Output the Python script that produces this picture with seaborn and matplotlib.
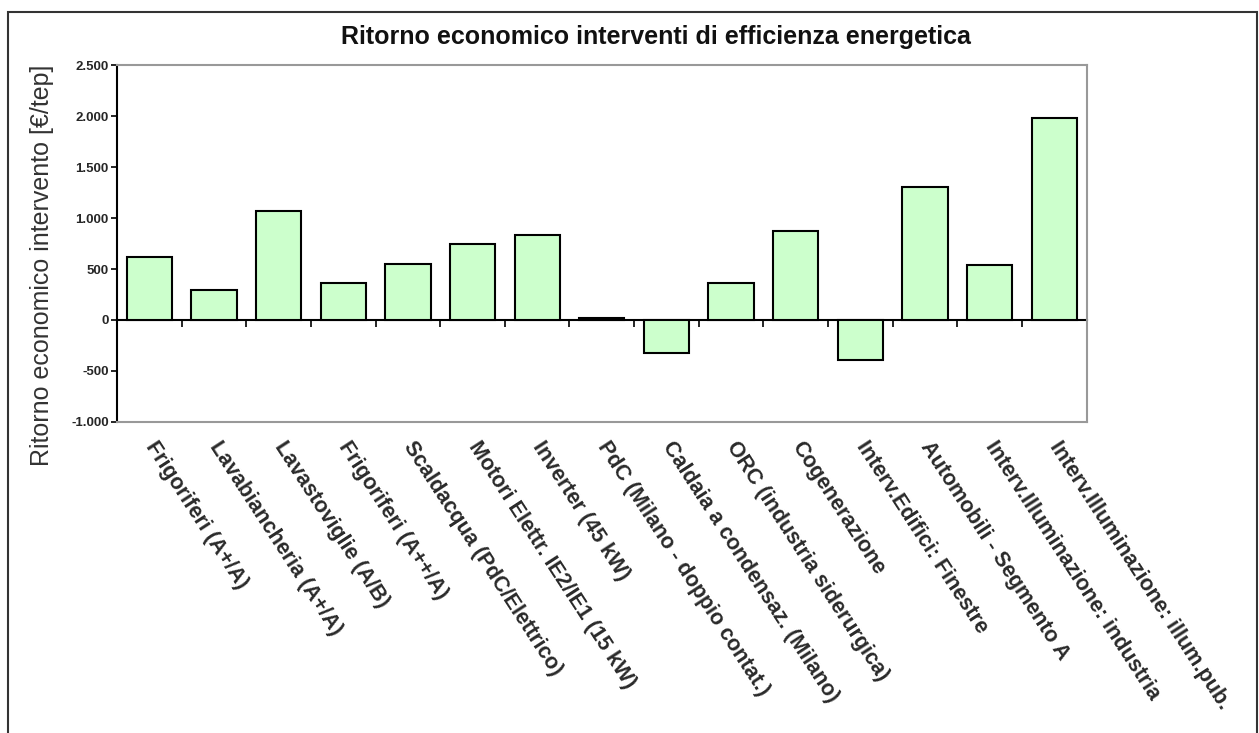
import numpy as np
import pandas as pd
import matplotlib
matplotlib.use("Agg")
import matplotlib.pyplot as plt
import seaborn as sns
from matplotlib.ticker import FuncFormatter, FixedLocator
from matplotlib.patches import Rectangle

# Dati
interventi = [
    "Frigoriferi (A+/A)",
    "Lavabiancheria (A+/A)",
    "Lavastoviglie (A/B)",
    "Frigoriferi (A++/A)",
    "Scaldacqua (PdC/Elettrico)",
    "Motori Elettr. IE2/IE1 (15 kW)",
    "Inverter (45 kW)",
    "PdC (Milano - doppio contat.)",
    "Caldaia a condensaz. (Milano)",
    "ORC (industria siderurgica)",
    "Cogenerazione",
    "Interv.Edifici: Finestre",
    "Automobili - Segmento A",
    "Interv.Illuminazione: industria",
    "Interv.Illuminazione: illum.pub.",
]
ritorno = [620, 299, 1067, 360, 551, 746, 833, 20, -324, 360, 875, -389, 1300, 535, 1984]
y_ticks = [-1000, -500, 0, 500, 1000, 1500, 2000, 2500]

df = pd.DataFrame({"intervento": interventi, "ritorno": ritorno})

sns.set_theme(style="white")
plt.rcParams["font.family"] = ["Liberation Sans", "DejaVu Sans"]

fig = plt.figure(figsize=(12.59, 7.33), dpi=100)
ax = fig.add_axes([0.093, 0.4243, 0.77, 0.4870])

sns.barplot(
    data=df,
    x="intervento",
    y="ritorno",
    color="#CCFFCC",
    saturation=1,
    edgecolor="black",
    linewidth=1.5,
    width=0.7,
    ax=ax,
)

ax.set_ylim(-1000, 2500)
ax.set_xlim(-0.5, len(interventi) - 0.5)
ax.yaxis.set_major_locator(FixedLocator(y_ticks))
ax.yaxis.set_major_formatter(
    FuncFormatter(lambda v, p: f"{int(v):,}".replace(",", "."))
)
ax.tick_params(axis="y", direction="out", length=4, width=1.2, color="black",
               labelsize=9.5, pad=2, left=True)
for lab in ax.get_yticklabels():
    lab.set_fontweight("bold")

# etichette categorie ruotate
ax.set_xticks(range(len(interventi)))
ax.set_xticklabels(interventi, rotation=-57, ha="left", va="center",
                   rotation_mode="anchor", fontsize=15.5, fontweight="bold",
                   color="#2a2a2a")
ax.tick_params(axis="x", length=0, pad=15)
ax.set_xlabel("")
ax.set_ylabel("")

for side in ["top", "right", "bottom"]:
    ax.spines[side].set_color("#999999")
    ax.spines[side].set_linewidth(1.5)
ax.spines["left"].set_color("black")
ax.spines["left"].set_linewidth(1.5)

# asse dello zero con tacche tra le categorie
zero_frac = (0 - y_ticks[0]) / (y_ticks[-1] - y_ticks[0])
sec = ax.secondary_xaxis(zero_frac)
sec.set_xticks(np.arange(len(interventi) - 1) + 0.5)
sec.tick_params(axis="x", direction="out", length=5, width=1.2, color="black",
                labelbottom=False, labeltop=False, bottom=True, top=False)
sec.spines["bottom"].set_color("black")
sec.spines["bottom"].set_linewidth(1.5)
sec.spines["top"].set_visible(False)

fig.text(0.521, 0.95, "Ritorno economico interventi di efficienza energetica",
         ha="center", va="center", fontsize=18, fontweight="bold",
         color="#111111")
fig.text(0.033, 0.638, "Ritorno economico intervento [€/tep]", rotation=90,
         ha="center", va="center", fontsize=18, color="#333333")

# cornice esterna
fig.patches.append(Rectangle((8 / 1259, -0.05), 1249 / 1259, 1 - 12 / 733 + 0.05,
                             transform=fig.transFigure, fill=False,
                             edgecolor="#333333", linewidth=1.5))

fig.savefig("out.png", dpi=100)
